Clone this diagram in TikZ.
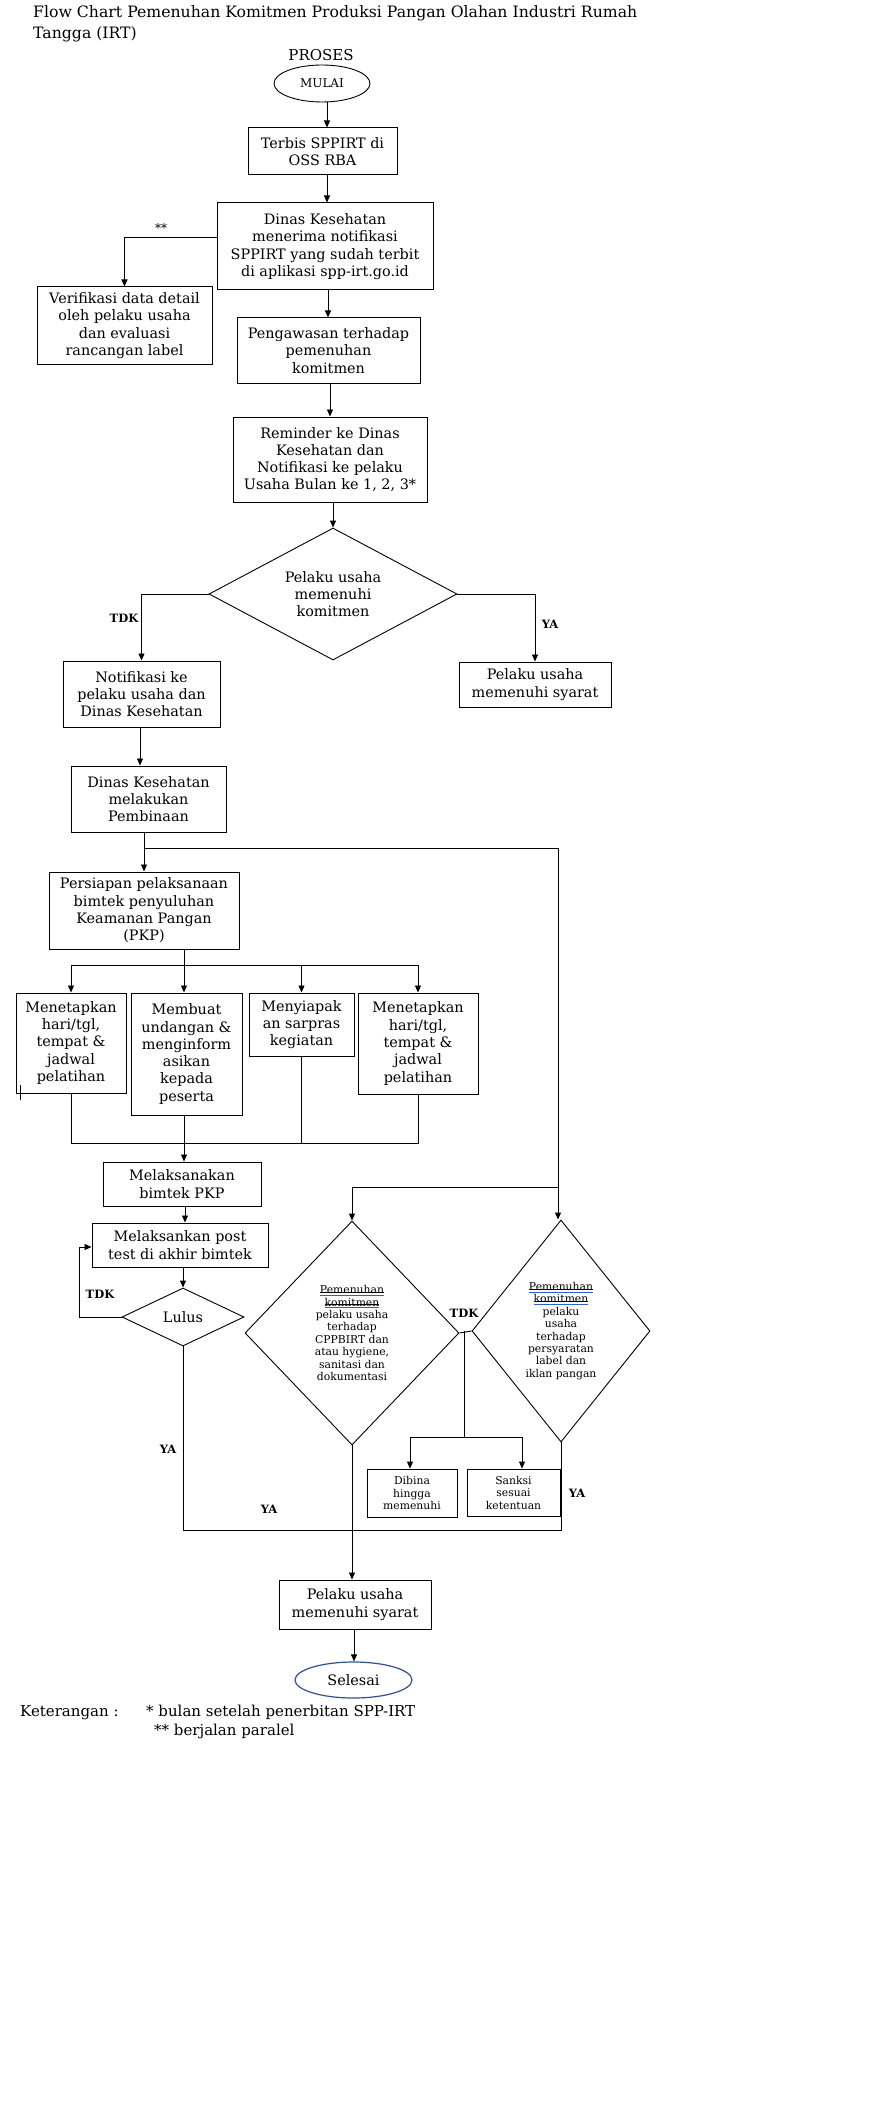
\documentclass[tikz,border=0pt]{standalone}
\usepackage{fontspec}
\setmainfont{DejaVu Serif}
\usetikzlibrary{arrows.meta,shapes.geometric,calc}
\definecolor{selblue}{HTML}{2F528F}
\definecolor{spellblue}{HTML}{2B5FD0}
\newcommand\wm[1]{\setbox0\hbox{#1}\rlap{\rule[1.2pt]{\wd0}{0.45pt}}\rlap{\textcolor{spellblue}{\rule[-1.8pt]{\wd0}{0.7pt}}}\box0}
\tikzset{
  box/.style={draw, line width=1pt, rectangle, inner sep=0pt, align=center, font=\fontsize{14.4}{17.3}\selectfont},
  sbox/.style={draw, line width=0.9pt, rectangle, inner sep=0pt, align=center, font=\fontsize{10.8}{12.5}\selectfont},
  dia/.style={draw, diamond, inner sep=0pt, line width=0.9pt},
  txt/.style={inner sep=0pt, align=center, font=\fontsize{14.4}{17.3}\selectfont},
  stxt/.style={inner sep=0pt, align=center, font=\fontsize{10.8}{12.4}\selectfont},
  lbl/.style={inner sep=0pt, font=\bfseries\fontsize{11.5}{13}\selectfont},
  arr/.style={-{Triangle[length=7pt,width=6pt]}, line width=0.9pt},
  ln/.style={line width=0.9pt},
  plain/.style={inner sep=0pt, anchor=base west, font=\fontsize{15}{19}\selectfont}
}
\begin{document}
\begin{tikzpicture}[x=1pt,y=-1pt]
\fill[white] (0,0) rectangle (884,2116);
\useasboundingbox (0,0) rectangle (884,2116);
% title
\node[plain, font=\fontsize{15.7}{21}\selectfont] (title1) at (33,17.5) {Flow Chart Pemenuhan Komitmen Produksi Pangan Olahan Industri Rumah};
\node[plain, font=\fontsize{15.7}{21}\selectfont] (title2) at (33,38.5) {Tangga (IRT)};
\node[inner sep=0pt, anchor=base, font=\fontsize{15}{18}\selectfont] (proses) at (321,61) {PROSES};
\node[draw, ellipse, line width=0.9pt, minimum width=96, minimum height=37, inner sep=0pt, font=\fontsize{12}{14}\selectfont] (mulai) at (322,83.5) {MULAI};
% top boxes
\node[box, minimum width=149, minimum height=47] (terbis) at (322.5,151.5) {Terbis SPPIRT di\\OSS RBA};
\node[box, minimum width=216, minimum height=87] (dinas) at (325,246.5) {Dinas Kesehatan\\menerima notifikasi\\SPPIRT yang sudah terbit\\di aplikasi spp-irt.go.id};
\node[box, minimum width=175, minimum height=77] (verif) at (124.5,325.5) {Verifikasi data detail\\oleh pelaku usaha\\dan evaluasi\\rancangan label};
\node[box, minimum width=183, minimum height=65] (pengaw) at (328.5,350.5) {Pengawasan terhadap\\pemenuhan\\komitmen};
\node[box, minimum width=194, minimum height=85] (remind) at (330,459.5) {Reminder ke Dinas\\Kesehatan dan\\Notifikasi ke pelaku\\Usaha Bulan ke 1, 2, 3*};
\node[dia, minimum width=248, minimum height=132] (d1) at (333,594) {};
\node[txt] (d1t) at (333,594) {Pelaku usaha\\memenuhi\\komitmen};
\node[box, minimum width=157, minimum height=66] (notif) at (141.5,694) {Notifikasi ke\\pelaku usaha dan\\Dinas Kesehatan};
\node[box, minimum width=152, minimum height=45] (pel1) at (535,684.5) {Pelaku usaha\\memenuhi syarat};
\node[box, minimum width=155, minimum height=66] (pembin) at (148.5,799) {Dinas Kesehatan\\melakukan\\Pembinaan};
\node[box, minimum width=190, minimum height=77] (persiap) at (144,910.5) {Persiapan pelaksanaan\\bimtek penyuluhan\\Keamanan Pangan\\(PKP)};
\node[box, minimum width=110, minimum height=100] (b1) at (71,1043) {Menetapkan\\hari/tgl,\\tempat \&\\jadwal\\pelatihan};
\node[box, minimum width=111, minimum height=122] (b2) at (186.5,1054) {Membuat\\undangan \&\\menginform\\asikan\\kepada\\peserta};
\node[box, minimum width=105, minimum height=63] (b3) at (301.5,1024.5) {Menyiapak\\an sarpras\\kegiatan};
\node[box, minimum width=120, minimum height=101] (b4) at (418,1043.5) {Menetapkan\\hari/tgl,\\tempat \&\\jadwal\\pelatihan};
\node[box, minimum width=158, minimum height=44] (melak) at (182,1184) {Melaksanakan\\bimtek PKP};
\node[box, minimum width=176, minimum height=44] (post) at (180,1245) {Melaksankan post\\test di akhir bimtek};
\node[dia, minimum width=122, minimum height=58] (lulus) at (183,1317) {};
\node[txt] (lulust) at (183,1317) {Lulus};
\node[dia, minimum width=214, minimum height=224] (d2) at (352,1333) {};
\node[stxt] (d2t) at (352,1333) {\wm{Pemenuhan}\\\wm{komitmen}\\pelaku usaha\\terhadap\\CPPBIRT dan\\atau hygiene,\\sanitasi dan\\dokumentasi};
\node[dia, minimum width=178, minimum height=222] (d3) at (561,1331) {};
\node[stxt] (d3t) at (561,1331) {\wm{Pemenuhan}\\\wm{komitmen}\\pelaku\\usaha\\terhadap\\persyaratan\\label dan\\iklan pangan};
\node[sbox, minimum width=90, minimum height=48] (dibina) at (412,1493) {Dibina\\hingga\\memenuhi};
\node[sbox, minimum width=93, minimum height=47] (sanksi) at (513.5,1492.5) {Sanksi\\sesuai\\ketentuan};
\node[box, minimum width=152, minimum height=49] (pel2) at (355,1604.5) {Pelaku usaha\\memenuhi syarat};
\node[draw=selblue, ellipse, line width=1.2pt, minimum width=117, minimum height=36, inner sep=0pt, font=\fontsize{14.4}{17}\selectfont] (selesai) at (353.5,1680) {Selesai};
% notes
\node[plain] (ket) at (20,1716) {Keterangan :};
\node[plain] (ket1) at (146,1716) {* bulan setelah penerbitan SPP-IRT};
\node[plain] (ket2) at (154,1735) {** berjalan paralel};
% labels
\node[inner sep=0pt, font=\fontsize{12}{14}\selectfont] (star2) at (161,228) {**};
\node[lbl] (tdk1) at (124,618) {TDK};
\node[lbl] (ya1) at (550,624) {YA};
\node[lbl] (tdk2) at (100,1294) {TDK};
\node[lbl] (ya2) at (168,1449) {YA};
\node[lbl] (ya3) at (269,1509) {YA};
\node[lbl] (ya4) at (577,1493) {YA};
\node[lbl] (tdk3) at (464,1313) {TDK};
% helper coordinates
\coordinate (xa) at (327,0);
\coordinate (ya) at (0,237);
\coordinate (xb) at (328,0);
\coordinate (xc) at (330,0);
\coordinate (xd) at (140,0);
\coordinate (br1) at (144,848);
\coordinate (br2) at (558,848);
\coordinate (br3) at (558,1187);
\coordinate (br4) at (352,1187);
\coordinate (xf) at (184,0);
\coordinate (yh) at (0,965);
\coordinate (yj) at (0,1143);
\coordinate (xg) at (185,0);
\coordinate (xh) at (79,0);
\coordinate (yk) at (0,1247);
\coordinate (yl) at (0,1530);
\coordinate (xm) at (464,0);
\coordinate (yn) at (0,1437);
\coordinate (xo) at (410,0);
\coordinate (xp) at (522,0);
\coordinate (xq) at (354,0);
\coordinate (tk1) at (20,1085);
\coordinate (tk2) at (20,1100);
% connectors
\draw[arr] (xa |- mulai.south) -- (xa |- terbis.north);
\draw[arr] (xa |- terbis.south) -- (xa |- dinas.north);
\draw[arr] (dinas.west |- ya) -| (verif.north);
\draw[arr] (xb |- dinas.south) -- (xb |- pengaw.north);
\draw[arr] (xc |- pengaw.south) -- (xc |- remind.north);
\draw[arr] (d1.north |- remind.south) -- (d1.north);
\draw[arr] (d1.west) -| (notif.north);
\draw[arr] (d1.east) -| (pel1.north);
\draw[arr] (xd |- notif.south) -- (xd |- pembin.north);
\draw[arr] (persiap.north |- pembin.south) -- (persiap.north);
\draw[ln] (br1) -- (br2);
\draw[arr] (br2) -- (br2 |- d3.north);
\draw[ln] (br3) -- (br4);
\draw[arr] (br4) -- (d2.north);
\draw[arr] (xf |- persiap.south) -- (xf |- b2.north);
\draw[ln] (b1.north |- yh) -- (b4.north |- yh);
\draw[arr] (b1.north |- yh) -- (b1.north);
\draw[arr] (b3.north |- yh) -- (b3.north);
\draw[arr] (b4.north |- yh) -- (b4.north);
\draw[ln] (b1.south) -- (b1.south |- yj) -- (b4.south |- yj) -- (b4.south);
\draw[ln] (b3.south) -- (b3.south |- yj);
\draw[arr] (xf |- b2.south) -- (xf |- melak.north);
\draw[ln] (tk1) -- (tk2);
\draw[arr] (xg |- melak.south) -- (xg |- post.north);
\draw[arr] (lulus.north |- post.south) -- (lulus.north);
\draw[arr] (lulus.west) -| (xh |- yk) -- (post.west |- yk);
\draw[ln] (lulus.south) -- (lulus.south |- yl) -- (d3.south |- yl) -- (d3.south);
\draw[arr] (d2.south) -- (d2.south |- pel2.north);
\draw[ln] (d2.east) -- (d3.west);
\draw[ln] (xm |- d3.west) -- (xm |- yn);
\draw[ln] (xo |- yn) -- (xp |- yn);
\draw[arr] (xo |- yn) -- (xo |- dibina.north);
\draw[arr] (xp |- yn) -- (xp |- sanksi.north);
\draw[arr] (xq |- pel2.south) -- (xq |- selesai.north);
\end{tikzpicture}
\end{document}
